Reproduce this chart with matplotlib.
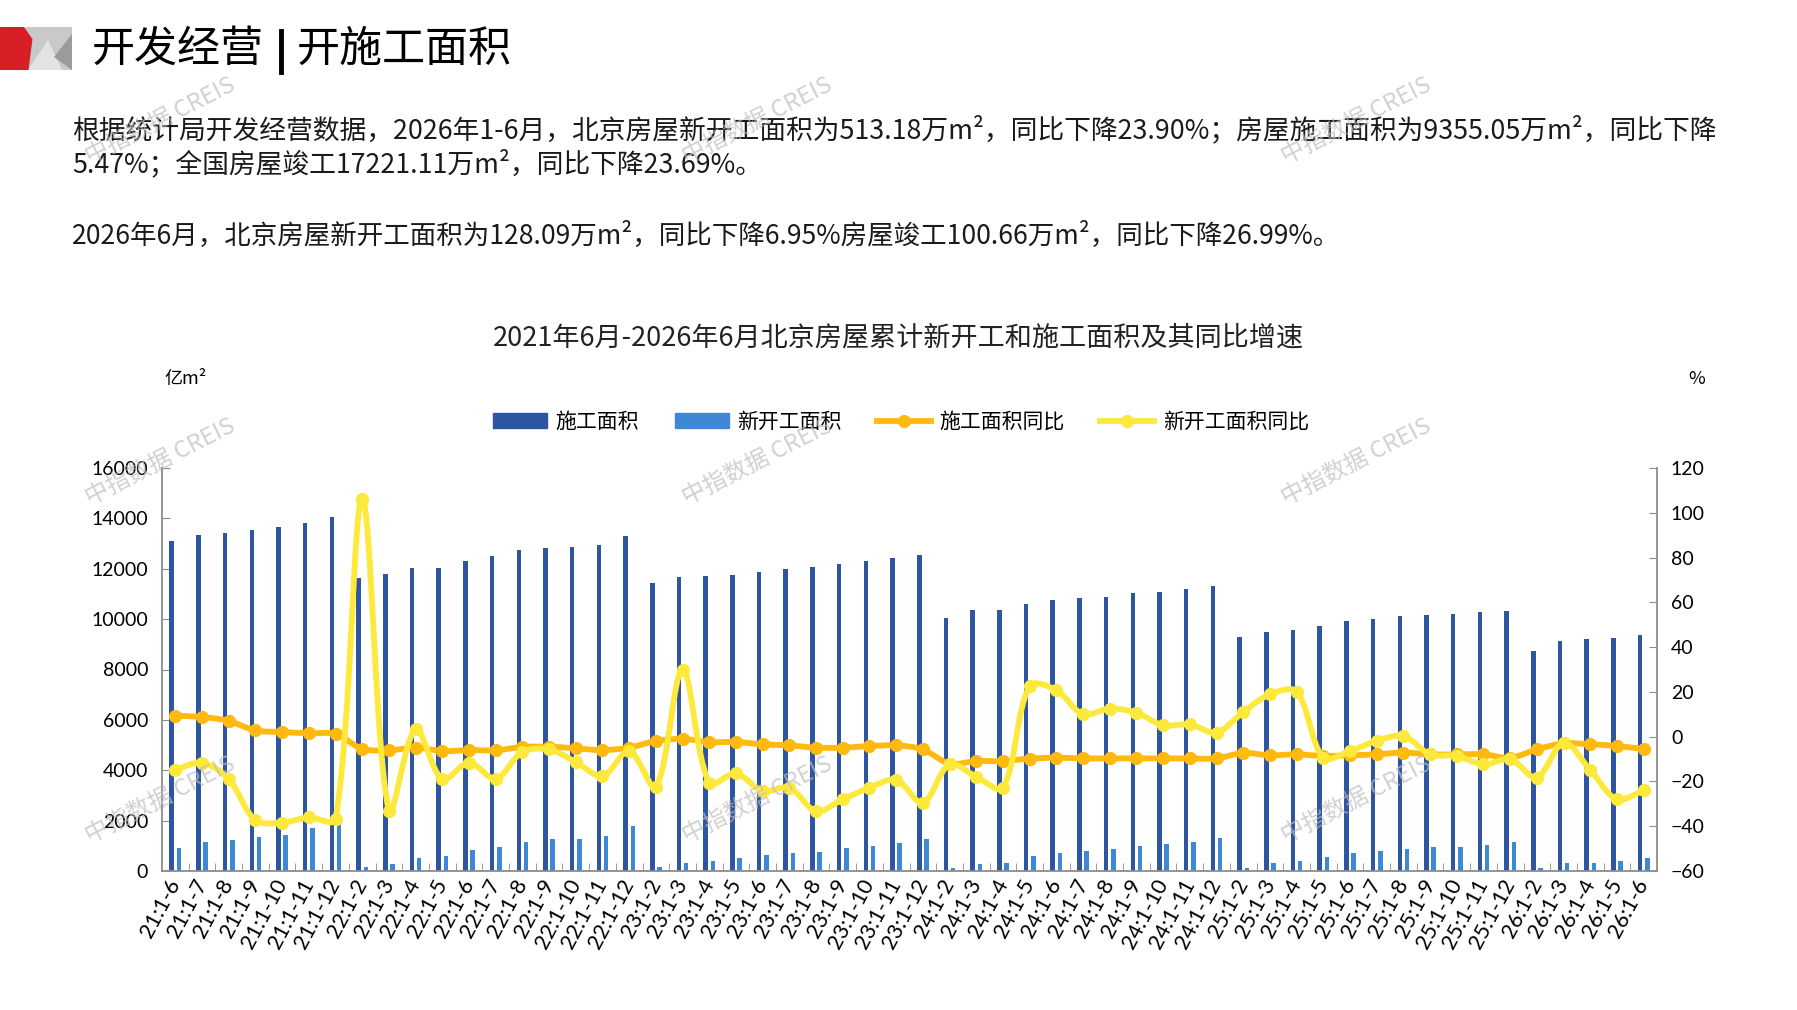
import math
import matplotlib
matplotlib.use("Agg")
import matplotlib.pyplot as plt
from matplotlib.path import Path
from matplotlib.patches import PathPatch, Polygon, Rectangle
from matplotlib.lines import Line2D

plt.rcParams['font.family'] = ['Noto Sans CJK SC', 'DejaVu Sans']

W, H = 1797, 1010

# ---- data ----
periods = ['21:1-6', '21:1-7', '21:1-8', '21:1-9', '21:1-10', '21:1-11', '21:1-12',
           '22:1-2', '22:1-3', '22:1-4', '22:1-5', '22:1-6', '22:1-7', '22:1-8',
           '22:1-9', '22:1-10', '22:1-11', '22:1-12',
           '23:1-2', '23:1-3', '23:1-4', '23:1-5', '23:1-6', '23:1-7', '23:1-8',
           '23:1-9', '23:1-10', '23:1-11', '23:1-12',
           '24:1-2', '24:1-3', '24:1-4', '24:1-5', '24:1-6', '24:1-7', '24:1-8',
           '24:1-9', '24:1-10', '24:1-11', '24:1-12',
           '25:1-2', '25:1-3', '25:1-4', '25:1-5', '25:1-6', '25:1-7', '25:1-8',
           '25:1-9', '25:1-10', '25:1-11', '25:1-12',
           '26:1-2', '26:1-3', '26:1-4', '26:1-5', '26:1-6']

construction_area = [13086, 13338, 13417, 13523, 13642, 13828, 14066,
                     11620, 11788, 12013, 12040, 12318, 12503, 12728, 12821, 12861, 12940, 13300,
                     11417, 11656, 11695, 11748, 11881, 12000, 12066, 12185, 12305, 12437, 12543,
                     10030, 10344, 10371, 10596, 10768, 10834, 10887, 11020, 11086, 11205, 11311,
                     9290, 9497, 9563, 9709, 9907, 10000, 10106, 10172, 10199, 10265, 10318,
                     8740, 9139, 9192, 9245, 9355]

new_start_area = [920, 1166, 1245, 1338, 1430, 1690, 1990,
                  172, 265, 530, 596, 821, 967, 1166, 1272, 1285, 1391, 1788,
                  159, 331, 411, 503, 623, 728, 768, 914, 980, 1113, 1272,
                  132, 291, 331, 609, 728, 808, 874, 993, 1060, 1166, 1298,
                  132, 331, 384, 556, 702, 781, 887, 940, 954, 1033, 1166,
                  106, 305, 305, 397, 513]

construction_yoy = [9.3, 8.8, 7.0, 2.8, 2.1, 1.5, 1.2,
                    -5.4, -6.1, -4.9, -6.4, -6.0, -6.1, -4.6, -4.5, -5.2, -6.0, -4.9,
                    -1.9, -1.0, -2.4, -2.4, -3.4, -3.9, -4.9, -4.9, -4.2, -3.9, -5.7,
                    -12.0, -10.9, -10.9, -9.8, -9.4, -9.7, -9.7, -9.7, -9.7, -9.7, -9.7,
                    -7.3, -8.3, -7.9, -8.6, -8.3, -7.9, -7.1, -7.9, -7.9, -7.9, -9.4,
                    -5.7, -3.0, -3.4, -4.2, -5.47]

new_start_yoy = [-14.9, -11.6, -19.0, -37.3, -38.4, -36.1, -36.9,
                 106.0, -33.3, 3.3, -19.0, -11.6, -18.8, -6.8, -5.7, -11.3, -17.6, -6.4,
                 -22.5, 30.0, -20.8, -16.4, -24.3, -22.8, -33.3, -28.0, -22.8, -19.3, -29.5,
                 -12.4, -17.9, -22.8, 22.6, 20.8, 10.0, 12.5, 10.7, 5.1, 5.5, 1.8,
                 11.0, 18.9, 20.1, -9.4, -6.4, -1.9, 0.3, -7.9, -8.6, -12.4, -10.1,
                 -18.3, -2.7, -14.9, -28.0, -23.9]

DARK_BLUE = '#2E55A0'
LIGHT_BLUE = '#3F88D6'
ORANGE = '#FFB90F'
YELLOW = '#FDE83C'
GREY = '#8C8C8C'

# axes box in pixels
AX_L, AX_R, AX_T, AX_B = 162, 1657, 468, 871


def fx(px):
    return px / W


def fy(py):
    return 1 - py / H


def smooth_path(xs, ys, sx, sy, tension=1 / 3):
    """Excel-like smoothed line: cubic bezier, tangents weighted by screen chord length."""
    n = len(xs)

    def dist(i, j):
        return math.hypot((xs[j] - xs[i]) * sx, (ys[j] - ys[i]) * sy)

    verts = [(xs[0], ys[0])]
    codes = [Path.MOVETO]
    for i in range(n - 1):
        a = max(i - 1, 0)
        b = min(i + 2, n - 1)
        d = dist(i, i + 1)
        dp = dist(a, i) if i > 0 else d
        dn = dist(i + 1, b) if i + 2 < n else d
        k1 = tension * d / (dp + d)
        k2 = tension * d / (d + dn)
        c1 = (xs[i] + (xs[i + 1] - xs[a]) * k1, ys[i] + (ys[i + 1] - ys[a]) * k1)
        c2 = (xs[i + 1] - (xs[b] - xs[i]) * k2, ys[i + 1] - (ys[b] - ys[i]) * k2)
        verts += [c1, c2, (xs[i + 1], ys[i + 1])]
        codes += [Path.CURVE4] * 3
    return Path(verts, codes)


fig = plt.figure(figsize=(W / 100, H / 100), dpi=100)

# ---- header logo ----
logo = fig.add_axes([0, 0, 1, 1], zorder=-1)
logo.set_xlim(0, W)
logo.set_ylim(H, 0)
logo.axis('off')
logo.add_patch(Rectangle((25, 27), 47, 43, color='#C9C9C9', lw=0))
logo.add_patch(Polygon([(28, 70), (48, 40), (62, 70)], closed=True, color='#E3E3E3', lw=0))
logo.add_patch(Polygon([(72, 34), (54, 57), (72, 70)], closed=True, color='#9B9B9B', lw=0))
logo.add_patch(Polygon([(0, 27), (24, 27), (32.5, 39), (28.5, 70), (0, 70)],
                       closed=True, color='#D71F26', lw=0))

# ---- page title and paragraphs ----
fig.text(fx(92), fy(50), '开发经营', fontsize=31, va='center', ha='left')
logo.plot([281, 281], [31, 72], color='black', lw=3.5)
fig.text(fx(297), fy(50), '开施工面积', fontsize=31, va='center', ha='left')

para1a = '根据统计局开发经营数据，2026年1-6月，北京房屋新开工面积为513.18万m²，同比下降23.90%；房屋施工面积为9355.05万m²，同比下降'
para1b = '5.47%；全国房屋竣工17221.11万m²，同比下降23.69%。'
para2 = '2026年6月，北京房屋新开工面积为128.09万m²，同比下降6.95%房屋竣工100.66万m²，同比下降26.99%。'
fig.text(fx(72), fy(130), para1a, fontsize=19.3, va='center', ha='left', color='#1a1a1a')
fig.text(fx(72), fy(164), para1b, fontsize=19.3, va='center', ha='left', color='#1a1a1a')
fig.text(fx(72), fy(236), para2, fontsize=19.1, va='center', ha='left', color='#1a1a1a')

# ---- chart ----
ax = fig.add_axes([fx(AX_L), fy(AX_B), fx(AX_R) - fx(AX_L), fy(AX_T) - fy(AX_B)])
ax2 = ax.twinx()

x = list(range(len(periods)))
bw = 0.17
ax.bar([i - 0.135 for i in x], construction_area, width=bw, color=DARK_BLUE, zorder=2)
ax.bar([i + 0.135 for i in x], new_start_area, width=bw, color=LIGHT_BLUE, zorder=2)

ax.set_xlim(-0.5, len(periods) - 0.5)
ax.set_ylim(0, 16000)
ax.set_yticks(range(0, 16001, 2000))
ax2.set_ylim(-60, 120)
ax2.set_yticks(range(-60, 121, 20))

sx = (AX_R - AX_L) / len(periods)
sy = (AX_B - AX_T) / 180
ax2.add_patch(PathPatch(smooth_path(x, construction_yoy, sx, sy), fill=False, edgecolor=ORANGE,
                        lw=4.2, capstyle='round', joinstyle='round', zorder=3))
ax2.plot(x, construction_yoy, 'o', color=ORANGE, ms=8.5, zorder=3)
ax2.add_patch(PathPatch(smooth_path(x, new_start_yoy, sx, sy), fill=False, edgecolor=YELLOW,
                        lw=4.2, capstyle='round', joinstyle='round', zorder=4))
ax2.plot(x, new_start_yoy, 'o', color=YELLOW, ms=8.5, zorder=4)

for a in (ax, ax2):
    a.spines['top'].set_visible(False)
    for s in ('left', 'right', 'bottom'):
        a.spines[s].set_color(GREY)
        a.spines[s].set_linewidth(1.3)
    a.set_facecolor('none')
ax.spines['right'].set_visible(False)
ax2.spines['left'].set_visible(False)
ax2.spines['bottom'].set_visible(False)

ax.tick_params(axis='y', direction='in', length=6, color=GREY, labelsize=14, pad=10)
ax2.tick_params(axis='y', direction='in', length=6, color=GREY, labelsize=14, pad=10)
for lab in ax.get_yticklabels() + ax2.get_yticklabels():
    lab.set_family('Lato')

ax.set_xticks(x)
ax.set_xticklabels(periods, rotation=62, ha='right', va='center', rotation_mode='anchor',
                   fontsize=15.5, family='Lato')
ax.tick_params(axis='x', which='major', length=0, pad=7)
ax.set_xticks([i + 0.5 for i in x[:-1]], minor=True)
ax.tick_params(axis='x', which='minor', direction='in', length=6, color=GREY)

# chart title, units, legend
fig.text(fx(898), fy(338), '2021年6月-2026年6月北京房屋累计新开工和施工面积及其同比增速',
         fontsize=19.5, ha='center', va='center', color='#222222')
fig.text(fx(164), fy(379), '亿m²', fontsize=13, ha='left', va='center')
fig.text(fx(1688), fy(379), '%', fontsize=13, ha='left', va='center')

handles = [Rectangle((0, 0), 1, 1, color=DARK_BLUE),
           Rectangle((0, 0), 1, 1, color=LIGHT_BLUE),
           Line2D([], [], color=ORANGE, lw=4.2, marker='o', ms=8.5),
           Line2D([], [], color=YELLOW, lw=4.2, marker='o', ms=8.5)]
fig.legend(handles, ['施工面积', '新开工面积', '施工面积同比', '新开工面积同比'],
           loc='center', bbox_to_anchor=(fx(901), fy(422)), ncol=4, frameon=False,
           fontsize=15, handlelength=2.6, handleheight=0.7, columnspacing=1.7,
           handletextpad=0.4)

# watermarks
for wx in (160, 757, 1356):
    for wy in (121, 462, 800):
        fig.text(fx(wx), fy(wy), '中指数据 CREIS', fontsize=17, rotation=27,
                 ha='center', va='center', color='#BDBDBD', alpha=0.7, zorder=10)

fig.savefig('out.png', dpi=100)
